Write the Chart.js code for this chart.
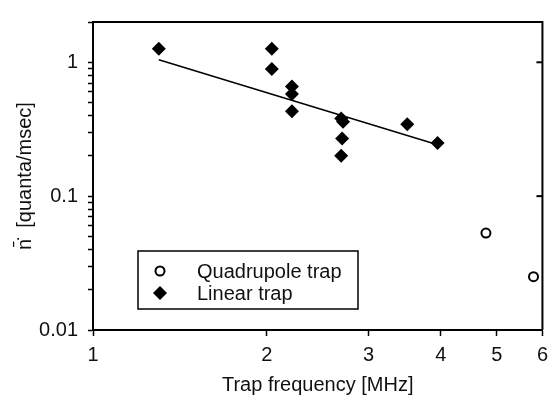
<!DOCTYPE html>
<html>
<head>
<meta charset="utf-8">
<script src="https://cdn.jsdelivr.net/npm/chart.js@4/dist/chart.umd.min.js"></script>
<style>
  body { margin: 0; background: #fff; }
  canvas { display: block; }
</style>
</head>
<body>
<canvas id="trapChart" width="555" height="397"></canvas>
<script>
// heating rate vs trap frequency
const quadFreq = [4.79, 5.79];
const quadRate = [0.053, 0.025];

const linearFreq = [1.30, 2.04, 2.04, 2.21, 2.21, 2.21, 2.69, 2.71, 2.70, 2.69, 3.50, 3.95];
const linearRate = [1.26, 1.26, 0.89, 0.66, 0.58, 0.43, 0.38, 0.36, 0.27, 0.20, 0.345, 0.25];

const fitFreq = [1.30, 3.95];
const fitRate = [1.045, 0.242];

const xTicks = [1, 2, 3, 4, 5, 6];
const yMajorTicks = [0.01, 0.1, 1];
const yMinorTicks = [0.02, 0.03, 0.04, 0.05, 0.06, 0.07, 0.08, 0.09,
                     0.2, 0.3, 0.4, 0.5, 0.6, 0.7, 0.8, 0.9, 2];

const legendLabels = ['Quadrupole trap', 'Linear trap'];

const fontFamily = '"Liberation Sans", Arial, sans-serif';
const textColor = '#111';
const ctx = document.getElementById('trapChart').getContext('2d');

function toPoints(xs, ys) {
    return xs.map((x, i) => ({ x: x, y: ys[i] }));
}

// top/right frame, inward ticks on the right side and the boxed legend
const framePlugin = {
    id: 'frame',
    afterDraw(chart) {
        const c = chart.ctx;
        const a = chart.chartArea;
        const y = chart.scales.y;
        c.save();
        c.strokeStyle = '#000';
        c.lineWidth = 2;
        c.beginPath();
        c.moveTo(a.left, a.top);
        c.lineTo(a.right, a.top);
        c.lineTo(a.right, a.bottom);
        c.stroke();

        yMajorTicks.forEach(v => {
            const py = y.getPixelForValue(v);
            c.beginPath();
            c.moveTo(a.right, py);
            c.lineTo(a.right - 6, py);
            c.stroke();
        });

        // legend box
        const bx = 138, by = 251, bw = 220, bh = 58;
        c.lineWidth = 1.5;
        c.strokeRect(bx, by, bw, bh);

        const rows = [by + 20, by + 42];
        c.fillStyle = textColor;
        c.font = '20px ' + fontFamily;
        c.textBaseline = 'middle';
        c.textAlign = 'left';

        c.strokeStyle = '#000';
        c.lineWidth = 2;
        c.beginPath();
        c.arc(bx + 22, rows[0], 4.5, 0, Math.PI * 2);
        c.stroke();

        c.fillStyle = '#000';
        c.beginPath();
        c.moveTo(bx + 15, rows[1]);
        c.lineTo(bx + 22, rows[1] - 7);
        c.lineTo(bx + 29, rows[1]);
        c.lineTo(bx + 22, rows[1] + 7);
        c.closePath();
        c.fill();

        c.fillStyle = textColor;
        c.fillText(legendLabels[0], bx + 59, rows[0] + 1);
        c.fillText(legendLabels[1], bx + 59, rows[1] + 1);
        c.restore();
    }
};

new Chart(ctx, {
    type: 'scatter',
    data: {
        datasets: [
            {
                label: legendLabels[0],
                data: toPoints(quadFreq, quadRate),
                pointStyle: 'circle',
                pointRadius: 4.5,
                pointBorderWidth: 2,
                borderColor: '#000',
                backgroundColor: '#fff',
                clip: false
            },
            {
                label: legendLabels[1],
                data: toPoints(linearFreq, linearRate),
                pointStyle: 'rectRot',
                pointRadius: 7,
                borderWidth: 0,
                borderColor: '#000',
                backgroundColor: '#000',
                clip: false
            },
            {
                type: 'line',
                label: 'fit',
                data: toPoints(fitFreq, fitRate),
                borderColor: '#000',
                borderWidth: 1.5,
                pointRadius: 0,
                fill: false
            }
        ]
    },
    options: {
        responsive: false,
        animation: false,
        layout: { padding: { left: 0, right: 9, top: 12, bottom: 0 } },
        plugins: {
            legend: { display: false },
            tooltip: { enabled: false }
        },
        scales: {
            x: {
                type: 'logarithmic',
                min: 1,
                max: 6,
                afterBuildTicks(scale) {
                    scale.ticks = xTicks.map(v => ({ value: v, major: true }));
                },
                afterFit(scale) {
                    scale.height = 67;
                },
                grid: {
                    drawOnChartArea: false,
                    drawTicks: true,
                    tickLength: 6,
                    tickWidth: 1.5,
                    tickColor: '#000'
                },
                border: { color: '#000', width: 2 },
                ticks: {
                    autoSkip: false,
                    maxRotation: 0,
                    padding: 7,
                    color: textColor,
                    font: { family: fontFamily, size: 20 },
                    callback: v => String(v)
                },
                title: {
                    display: true,
                    text: 'Trap frequency [MHz]',
                    color: textColor,
                    font: { family: fontFamily, size: 20 },
                    padding: { top: 0, bottom: 0 }
                }
            },
            y: {
                type: 'logarithmic',
                min: 0.01,
                max: 2,
                afterBuildTicks(scale) {
                    const all = yMajorTicks.map(v => ({ value: v, major: true }))
                        .concat(yMinorTicks.map(v => ({ value: v, major: false })));
                    all.sort((p, q) => p.value - q.value);
                    scale.ticks = all;
                },
                afterFit(scale) {
                    scale.width = 93;
                },
                grid: {
                    drawOnChartArea: false,
                    drawTicks: true,
                    tickLength: 5,
                    tickWidth: 1.5,
                    tickColor: '#000'
                },
                border: { color: '#000', width: 2 },
                ticks: {
                    autoSkip: false,
                    padding: 10,
                    color: textColor,
                    font: { family: fontFamily, size: 20 },
                    callback: v => (yMajorTicks.includes(v) ? String(v) : '')
                },
                title: {
                    display: true,
                    text: 'n\u0304\u0307  [quanta/msec]',
                    color: textColor,
                    font: { family: fontFamily, size: 20 },
                    padding: { top: 13, bottom: 0 }
                }
            }
        }
    },
    plugins: [framePlugin]
});
</script>
</body>
</html>
